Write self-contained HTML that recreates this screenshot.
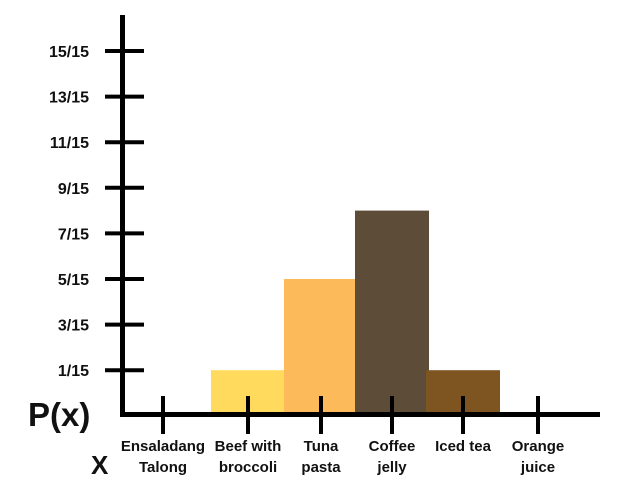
<!DOCTYPE html>
<html><head><meta charset="utf-8"><style>
html,body{margin:0;padding:0;background:#fff;}
svg{display:block;}
text{font-family:"Liberation Sans",sans-serif;font-weight:bold;fill:#111;}
</style></head><body>
<svg id="chart" width="630" height="490"></svg>
<script>
const categories=["Ensaladang|Talong","Beef with|broccoli","Tuna|pasta","Coffee|jelly","Iced tea","Orange|juice"];
const values=[0,1,5,8,1,0];
const colors=["#FFDA5C","#FFDA5C","#FDBA5A","#5C4C38","#7E5421","#7E5421"];
const yTickLabels=["1/15","3/15","5/15","7/15","9/15","11/15","13/15","15/15"];
const yTickValues=[1,3,5,7,9,11,13,15];
const tickX=[163,248,321,392,463,538];
const NS="http://www.w3.org/2000/svg";
const svg=document.getElementById("chart");
const axisY=415, zeroY=393, unit=22.8;
function yS(v){return zeroY-v*unit;}
function xS(i){return tickX[i];}
function mk(tag,attrs,parent){const e=document.createElementNS(NS,tag);for(const k in attrs)e.setAttribute(k,attrs[k]);(parent||svg).appendChild(e);return e;}
values.forEach((v,i)=>{
  if(v<=0)return;
  const r=mk("rect",{x:xS(i)-37,y:yS(v),width:74,height:axisY-yS(v),fill:colors[i]});
  
  
});
const ya=mk("line",{x1:122.5,y1:15,x2:122.5,y2:417,stroke:"#000","stroke-width":5});


const xa=mk("line",{x1:120,y1:414.5,x2:600,y2:414.5,stroke:"#000","stroke-width":5});


yTickValues.forEach((v,i)=>{
  const y=yS(v);
  const t=mk("line",{x1:105,y1:y,x2:144,y2:y,stroke:"#000","stroke-width":4});
  
  
  const l=mk("text",{x:89,y:y+6,"text-anchor":"end","font-size":16});
  l.textContent=yTickLabels[i];
  
  
});
categories.forEach((c,i)=>{
  const x=xS(i);
  const t=mk("line",{x1:x,y1:396,x2:x,y2:434,stroke:"#000","stroke-width":4});
  
  
  c.split("|").forEach((p,j)=>{
    const l=mk("text",{x:x,y:451+j*21,"text-anchor":"middle","font-size":15});
    l.textContent=p;
    
    
  });
});
const py=mk("text",{x:28,y:426,"font-size":33});
py.textContent="P(x)";


const px=mk("text",{x:91,y:474,"font-size":26});
px.textContent="X";


</script>
</body></html>
